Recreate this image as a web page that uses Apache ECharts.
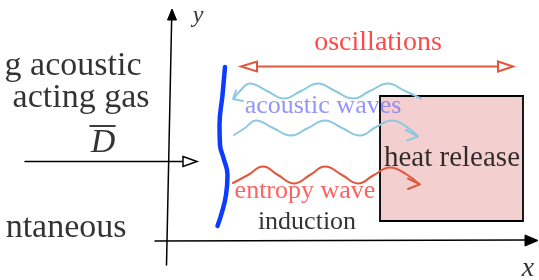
<!DOCTYPE html>
<html>
<head>
<meta charset="utf-8">
<script src="https://cdn.jsdelivr.net/npm/echarts@6/dist/echarts.min.js"></script>
<style>
  html, body { margin: 0; padding: 0; background: #fff; }
  #container { width: 539px; height: 280px; }
</style>
</head>
<body>
<div id="container"></div>
<script>
// every coordinate is in plot units: x 0..539, y 0..280 (y grows downward)
var yAxisLine = [[166.5, 265], [171.7, 17]];
var xAxisLine = [[155, 241], [526, 240]];
var meanLine = [[25, 161.5], [183, 161.5]];
var overBar = [[90, 126], [115, 126]];
var oscLine = [[256, 66.5], [499, 66.5]];

var flame = [[225, 67], [222.5, 95], [219.5, 125], [220, 145], [223.5, 158], [227.5, 175], [226, 195], [222, 212], [217.5, 226]];

var acousticTop = [[234, 98.5], [240, 91], [250, 83.5], [267, 91], [284, 98.5], [301, 91], [318, 83.5], [335, 91], [353, 98.5], [370, 91], [388, 83.5], [405, 91], [421, 98.5]];
var acousticBottom = [[234, 135], [245, 128], [256, 120.5], [273, 128], [291, 135.5], [308, 128], [325, 120.5], [342, 128], [360, 135.5], [376, 127], [392, 120.5], [407, 127], [417, 135.5]];
var entropy = [[233, 183], [248, 175], [263, 166.5], [278, 175], [294, 183.5], [310, 175], [325, 166.5], [342, 175], [358, 183.5], [374, 175], [390, 167.5], [406, 174], [419, 184]];

var headTopAcoustic = [[236, 90.5], [233, 99], [243, 101]];
var headBottomAcoustic = [[406, 130], [418, 136.5], [407, 140.5]];
var headEntropy = [[408, 178.5], [420, 184.3], [408, 189]];

var boxCorners = [[380, 96], [523, 96], [523, 221], [380, 221]];
var solidHeads = [
  [[172, 9], [167.5, 20], [176.5, 20]],
  [[538, 240.5], [525, 235], [525, 246]]
];
var openHeadsBlack = [[[183, 156.5], [197, 161.5], [183, 166.5]]];
var openHeadsOrange = [
  [[241, 66.5], [257, 61.5], [257, 71.5]],
  [[513, 66.5], [498, 61.5], [498, 71.5]]
];

var rightLabels = ['oscillations', 'acoustic waves', 'entropy wave', 'induction', 'heat release'];
var rightLabelPos = [[378, 42.5], [323, 106], [305, 191], [307, 222], [452, 158.5]];
var leftLabels = ['g acoustic', 'acting gas', 'ntaneous'];
var leftLabelPos = [[142, 66.5], [150, 98.5], [127, 228.5]];
var mathLabels = ['y', 'x', 'D'];
var mathLabelPos = [[198, 16], [528, 269], [103, 143]];

var serif = 'Liberation Serif';
var black = '#000';
var orange = '#e0583c';
var sky = '#8cc8de';

function path(data, color, width, z) {
  return {
    type: 'line', data: data, smooth: false, symbol: 'none', silent: true, z: z || 3,
    lineStyle: { color: color, width: width, cap: 'round', join: 'round' }
  };
}
function wave(data, color, width) {
  var s = path(data, color, width || 2);
  s.smooth = 0.45;
  return s;
}
function polys(list, fill, stroke, width, z) {
  return {
    type: 'custom', silent: true, z: z || 4,
    data: list.map(function (p, i) { return [i, 0]; }),
    renderItem: function (params, api) {
      var pts = list[params.dataIndex].map(function (p) { return api.coord(p); });
      return { type: 'polygon', shape: { points: pts }, style: { fill: fill, stroke: stroke, lineWidth: width } };
    }
  };
}
function labels(names, pos, styleFor, where) {
  return {
    type: 'scatter', silent: true, z: 6, symbolSize: 1,
    itemStyle: { color: 'rgba(0,0,0,0)' },
    data: names.map(function (n, i) {
      return {
        value: pos[i],
        label: Object.assign({ show: true, position: where, distance: 0, formatter: n, fontFamily: serif, textBorderWidth: 0 }, styleFor(i))
      };
    })
  };
}

var rightColors = ['#ff1a1a', '#7b7bf5', '#ff3a3a', '#000', '#000'];
var rightSizes = [28, 26, 26, 26, 29];
var mathSizes = [24, 28, 34];

var myChart = echarts.init(document.getElementById('container'));
var option = {
  animation: false,
  grid: { left: 0, right: 0, top: 0, bottom: 0 },
  xAxis: { type: 'value', min: 0, max: 539, show: false },
  yAxis: { type: 'value', min: 0, max: 280, inverse: true, show: false },
  series: [
    polys([boxCorners], '#f4cfcf', black, 1.8, 1),
    path(yAxisLine, black, 1.5),
    path(xAxisLine, black, 1.5),
    path(meanLine, black, 1.5),
    path(overBar, black, 1.6),
    path(oscLine, orange, 2),
    wave(flame, '#0d3bff', 4.5),
    wave(acousticTop, sky),
    wave(acousticBottom, sky),
    wave(entropy, orange),
    path(headTopAcoustic, sky, 2),
    path(headBottomAcoustic, sky, 2),
    path(headEntropy, orange, 2),
    polys(solidHeads, black, black, 1),
    polys(openHeadsBlack, '#fff', black, 1.5),
    polys(openHeadsOrange, '#fff', orange, 2),
    labels(rightLabels, rightLabelPos, function (i) {
      return { color: rightColors[i], fontSize: rightSizes[i], align: 'center', verticalAlign: 'middle' };
    }, 'inside'),
    labels(leftLabels, leftLabelPos, function () {
      return { color: black, fontSize: 34, align: 'right', verticalAlign: 'middle' };
    }, 'left'),
    labels(mathLabels, mathLabelPos, function (i) {
      return { color: black, fontSize: mathSizes[i], fontStyle: 'italic', align: 'center', verticalAlign: 'middle' };
    }, 'inside')
  ]
};

if (option && typeof option === "object") {
  myChart.setOption(option, true);
}
</script>
</body>
</html>
